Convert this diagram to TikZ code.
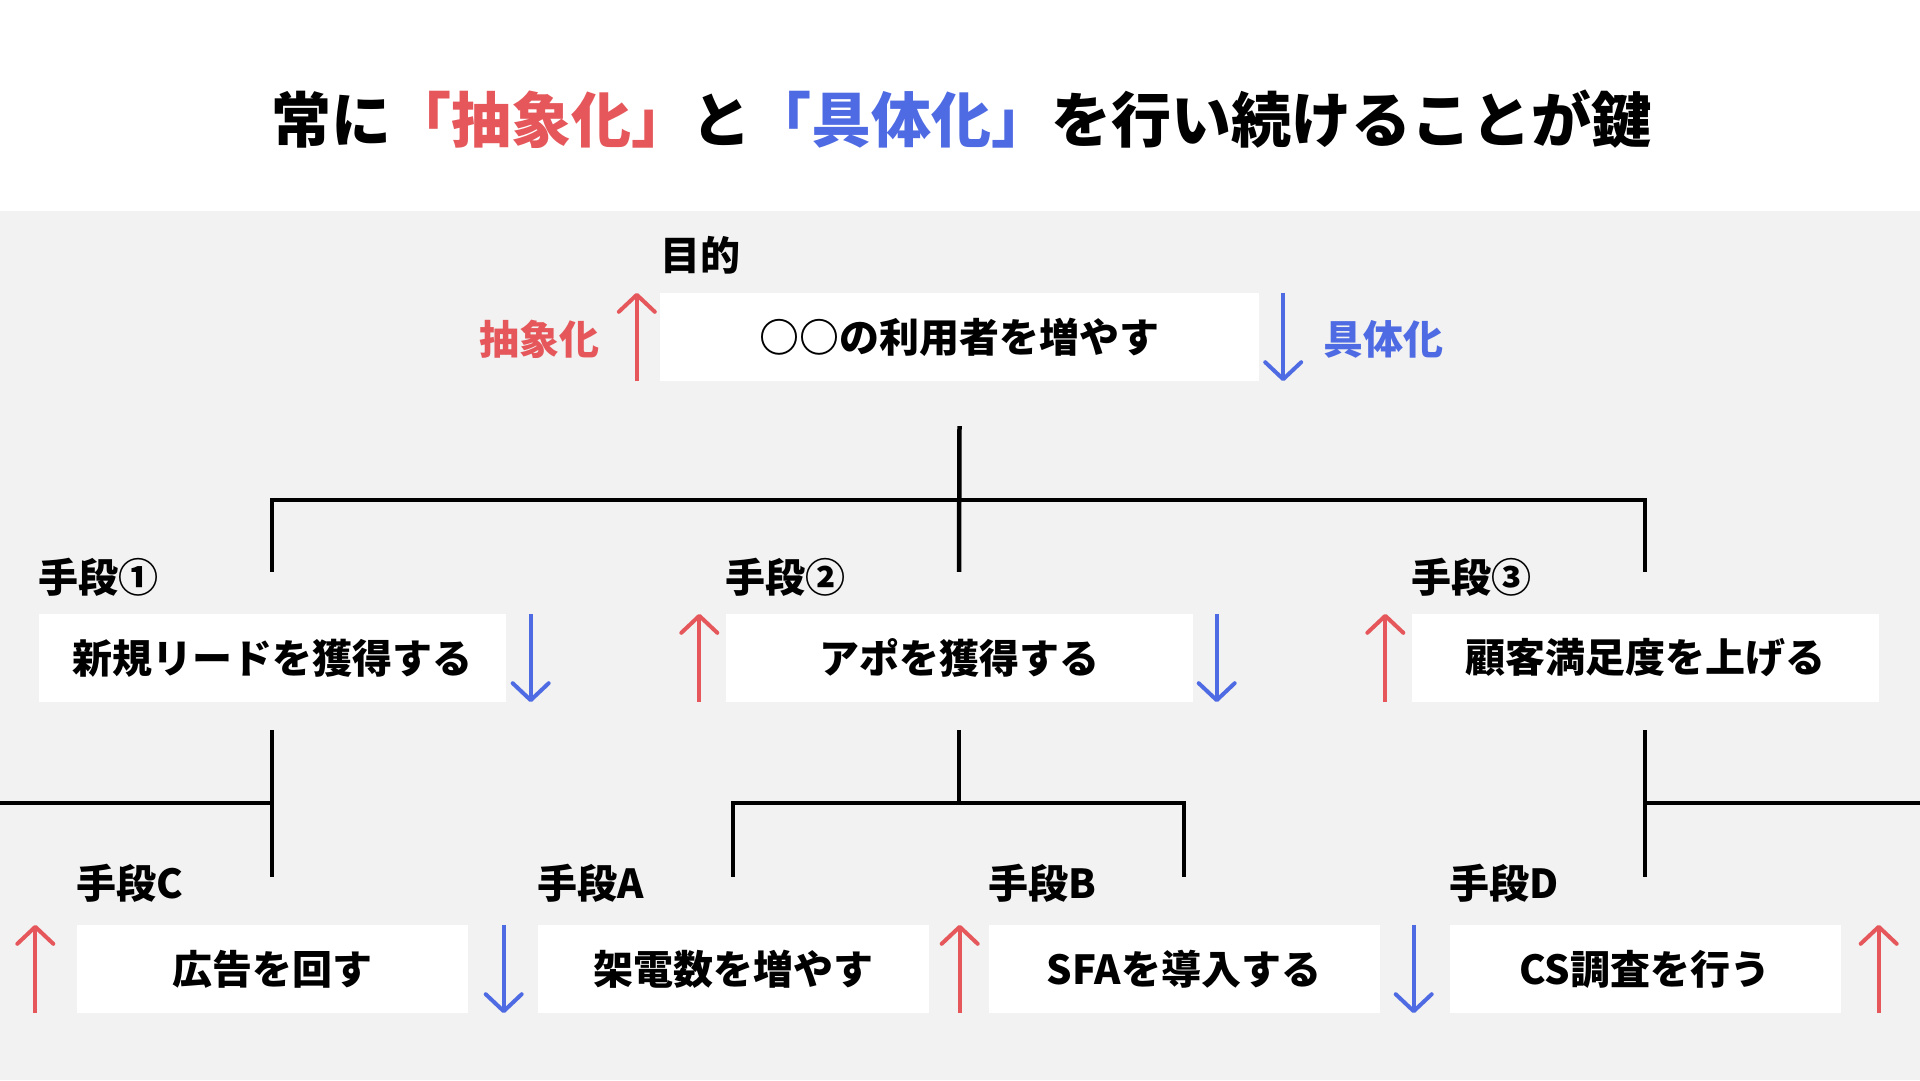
\documentclass[tikz,border=0pt]{standalone}
\usepackage{fontspec}
\setmainfont{Noto Sans CJK JP}
\usetikzlibrary{positioning, arrows.meta}
\definecolor{absred}{HTML}{E5575A}
\definecolor{concblue}{HTML}{4F6BE3}
\definecolor{bggray}{HTML}{F2F2F2}
\newcommand{\movetip}{-{Straight Barb[length=17pt,width=36pt,round]}}
\newcommand{\boxfont}{\bfseries\fontsize{40}{48}\selectfont}
\tikzset{
    box/.style={fill=white, inner sep=0pt, minimum height=88pt, font=\boxfont},
    lbl/.style={inner sep=0pt, font=\boxfont},
    branch/.style={line width=4.5pt, black},
    upmove/.style={absred, line width=4pt},
    downmove/.style={concblue, line width=4pt}
}

\begin{document}
\begin{tikzpicture}[x=1pt, y=-1pt]
    \useasboundingbox (0,0) rectangle (1920,1080);
    \fill[white] (0,0) rectangle (1920,211);
    \fill[bggray] (0,211) rectangle (1920,1080);

    % title
    \node[font=\bfseries\fontsize{60}{72}\selectfont] (title) at (961,119)
        {常に\textcolor{absred}{「抽象化」}と\textcolor{concblue}{「具体化」}を行い続けることが鍵};

    % goal
    \node[box, minimum width=599pt] (goal) at (959.5,337) {○○の利用者を増やす};
    \node[lbl, anchor=west] (goallbl) at ([yshift=82pt]goal.west) {目的};
    \draw[upmove, \movetip] ([xshift=-23pt]goal.south west) -- ([xshift=-23pt]goal.north west);
    \draw[downmove, \movetip] ([xshift=24pt]goal.north east) -- ([xshift=24pt]goal.south east);
    \node[lbl, text=absred] (abs) at (539,339) {抽象化};
    \node[lbl, text=concblue] (conc) at (1383,339) {具体化};

    % means, level 2
    \node[box, minimum width=467pt] (m1) at (272,658) {新規リードを獲得する};
    \node[box, minimum width=467pt] (m2) at (959,658) {アポを獲得する};
    \node[box, minimum width=467pt] (m3) at (1645,658) {顧客満足度を上げる};
    \node[lbl, anchor=west] (m1lbl) at ([yshift=81pt]m1.west) {手段①};
    \node[lbl, anchor=west] (m2lbl) at ([yshift=81pt]m2.west) {手段②};
    \node[lbl, anchor=west] (m3lbl) at ([yshift=81pt]m3.west) {手段③};
    \draw[downmove, \movetip] ([xshift=25pt]m1.north east) -- ([xshift=25pt]m1.south east);
    \draw[upmove, \movetip] ([xshift=-26pt]m2.south west) -- ([xshift=-26pt]m2.north west);
    \draw[downmove, \movetip] ([xshift=24pt]m2.north east) -- ([xshift=24pt]m2.south east);
    \draw[upmove, \movetip] ([xshift=-26pt]m3.south west) -- ([xshift=-26pt]m3.north west);

    % means, level 3
    \node[box, minimum width=391pt] (mc) at (272,969) {広告を回す};
    \node[box, minimum width=391pt] (ma) at (733,969) {架電数を増やす};
    \node[box, minimum width=391pt] (mb) at (1184,969) {SFAを導入する};
    \node[box, minimum width=391pt] (md) at (1645,969) {CS調査を行う};
    \node[lbl, anchor=west] (mclbl) at ([yshift=86pt]mc.west) {手段C};
    \node[lbl, anchor=west] (malbl) at ([yshift=86pt]ma.west) {手段A};
    \node[lbl, anchor=west] (mblbl) at ([yshift=86pt]mb.west) {手段B};
    \node[lbl, anchor=west] (mdlbl) at ([yshift=86pt]md.west) {手段D};
    \draw[upmove, \movetip] ([xshift=-41pt]mc.south west) -- ([xshift=-41pt]mc.north west);
    \draw[downmove, \movetip] ([xshift=36pt]mc.north east) -- ([xshift=36pt]mc.south east);
    \draw[upmove, \movetip] ([xshift=31pt]ma.south east) -- ([xshift=31pt]ma.north east);
    \draw[downmove, \movetip] ([xshift=34pt]mb.north east) -- ([xshift=34pt]mb.south east);
    \draw[upmove, \movetip] ([xshift=38pt]md.south east) -- ([xshift=38pt]md.north east);

    % tree
    \coordinate (j1) at (959,500);
    \coordinate (j2) at (959,803);
    \coordinate (offl) at (0,803);
    \coordinate (offr) at (1920,803);
    \draw[branch] ([yshift=-45pt]goal.south) -- ([yshift=42pt]m2.north);
    \draw[branch] ([yshift=42pt]m1.north) |- (j1) -| ([yshift=42pt]m3.north);
    \draw[branch] ([yshift=-28pt]m1.south) -- ([yshift=48pt]mc.north);
    \draw[branch] (offl) -- (m1.south |- offl);
    \draw[branch] ([yshift=-28pt]m2.south) -- (j2);
    \draw[branch] ([yshift=48pt]ma.north) |- (j2) -| ([yshift=48pt]mb.north);
    \draw[branch] ([yshift=-28pt]m3.south) -- ([yshift=48pt]md.north);
    \draw[branch] (m3.south |- offr) -- (offr);
\end{tikzpicture}
\end{document}
